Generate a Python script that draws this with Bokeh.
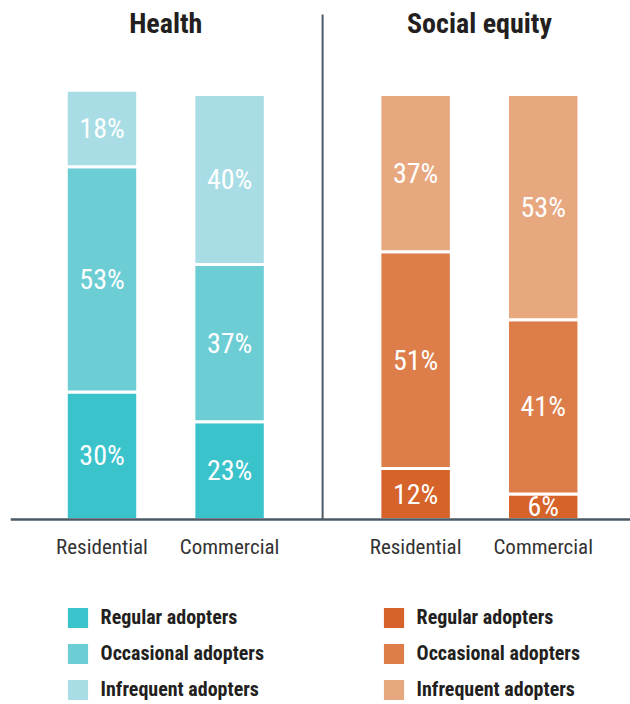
from bokeh.plotting import figure
from bokeh.models import Range1d, Span, Legend, LegendItem, ColumnDataSource
from bokeh.core.properties import value
from bokeh.embed import file_html
from bokeh.resources import INLINE

# ---- data ----
groups = ["Health", "Social equity"]
categories = ["Residential", "Commercial"]
segments = ["Regular adopters", "Occasional adopters", "Infrequent adopters"]

health_regular = [30, 23]
health_occasional = [53, 37]
health_infrequent = [18, 40]

social_regular = [12, 6]
social_occasional = [51, 41]
social_infrequent = [37, 53]

health_colors = ["#3bc3cc", "#6dcdd5", "#a8dde5"]
social_colors = ["#d6632a", "#dd7e4a", "#e8a87f"]

# ---- style ----
FONT = "Roboto Condensed"
DARK = "#231f20"
AXIS = "#4c5a66"
GROUP_STEP = 2.458
BAR_W = 0.56

W, H = 630, 704
p = figure(width=W, height=H, output_backend="svg", toolbar_location=None,
           x_axis_location=None, y_axis_location=None,
           min_border_left=10, min_border_right=0, min_border_top=0, min_border_bottom=0,
           x_range=Range1d(-0.717, 4.142), y_range=Range1d(-43.529, 122.118))
p.grid.visible = False
p.outline_line_color = None

series = [
    (health_regular, health_occasional, health_infrequent, health_colors),
    (social_regular, social_occasional, social_infrequent, social_colors),
]

keys = ["regular", "occasional", "infrequent"]
all_x, all_cat = [], []
renderer_sets = []
group_centers = []
for g, (reg, occ, inf, cols) in enumerate(series):
    xs = [g * GROUP_STEP + i for i in range(len(categories))]
    all_x += xs
    all_cat += categories
    group_centers.append(sum(xs) / len(xs))
    src = ColumnDataSource(dict(x=xs, regular=reg, occasional=occ, infrequent=inf))
    rs = p.vbar_stack(keys, x="x", width=BAR_W, fill_color=cols, line_color="white",
                      line_width=3, source=src)
    renderer_sets.append(rs)
    # percentage labels
    lx, ly, lt = [], [], []
    for i in range(len(xs)):
        base = 0
        for vals in (reg, occ, inf):
            v = vals[i]
            lx.append(xs[i]); ly.append(base + v / 2); lt.append(f"{v}%")
            base += v
    p.text(x=lx, y=ly, text=lt, text_align="center", text_baseline="middle",
           text_color="white", text_font=value(FONT), text_font_size="28px")

# titles
p.text(x=group_centers, y=[116.8, 116.8], text=groups, text_align="center",
       text_baseline="alphabetic", text_color=DARK, text_font=value(FONT),
       text_font_size="28px", text_font_style="bold")

# category labels
p.text(x=all_x, y=[-6.4] * len(all_x), text=all_cat, text_align="center",
       text_baseline="alphabetic", text_color="#333333", text_font=value(FONT),
       text_font_size="21px")

# divider between panels
mid = (1 + GROUP_STEP) / 2
p.segment(x0=[mid], y0=[0], x1=[mid], y1=[118.8], line_color=AXIS, line_width=2)

# baseline
p.add_layout(Span(location=0, dimension="width", line_color=AXIS, line_width=2.5))

# legends
for rs, xloc in zip(renderer_sets, [52.6, 368.6]):
    leg = Legend(items=[LegendItem(label=s, renderers=[r]) for s, r in zip(segments, rs)],
                 location=(xloc, 0.5), orientation="vertical",
                 glyph_width=29, glyph_height=29, label_height=29, label_standoff=9,
                 spacing=7, padding=0, margin=0, border_line_color=None,
                 background_fill_alpha=0, label_text_font=FONT,
                 label_text_font_size="20px", label_text_font_style="bold",
                 label_text_color=DARK)
    p.add_layout(leg)

open("out.html", "w").write(file_html(p, INLINE))
